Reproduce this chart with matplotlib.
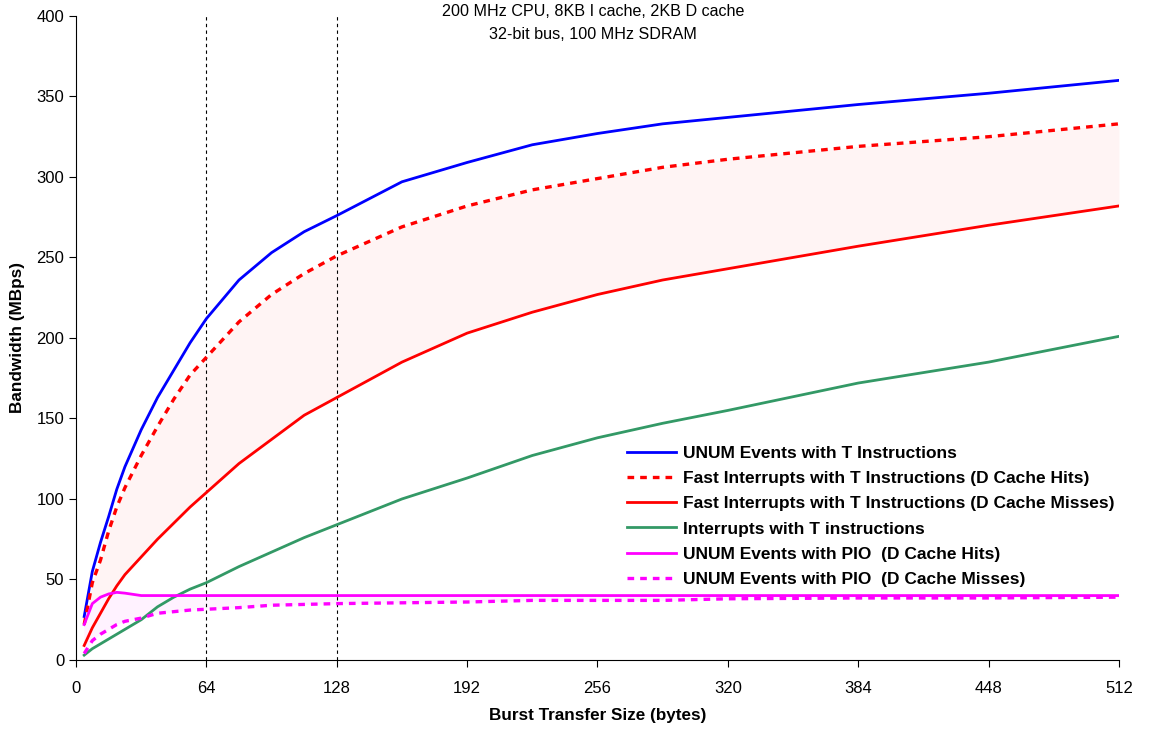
import numpy as np
import matplotlib.pyplot as plt

plt.rcParams['font.family'] = ['Liberation Sans', 'DejaVu Sans']

# burst size (bytes)
size = [4, 8, 12, 16, 20, 24, 32, 40, 48, 56, 64, 80, 96, 112, 128,
        160, 192, 224, 256, 288, 320, 384, 448, 512]

unum_t = [27, 55, 73, 89, 106, 120, 143, 163, 180, 197, 212, 236, 253, 266, 276,
          297, 309, 320, 327, 333, 337, 345, 352, 360]
fast_hits = [22, 48, 62, 80, 95, 107, 127, 145, 162, 177, 188, 210, 227, 240, 251,
             269, 282, 292, 299, 306, 311, 319, 325, 333]
fast_miss = [9, 20, 29, 38, 46, 53, 64, 75, 85, 95, 104, 122, 137, 152, 163,
             185, 203, 216, 227, 236, 243, 257, 270, 282]
intr_t = [3, 7, 10, 13, 16, 19, 25, 33, 39, 44, 48, 58, 67, 76, 84,
          100, 113, 127, 138, 147, 155, 172, 185, 201]
pio_hits = [22, 35, 39, 41, 42, 41.5, 40, 40, 40, 40, 40, 40, 40, 40, 40,
            40, 40, 40, 40, 40, 40, 40, 40, 40]
pio_miss = [4, 12, 16, 19, 22, 24, 26, 29, 30, 31, 31.5, 32.5, 34, 34.5, 35,
            35.5, 36, 37, 37, 37, 38, 38.5, 38.5, 39]

fig = plt.figure(figsize=(11.68, 7.29), dpi=100)
ax = fig.add_axes([0.0651, 0.0947, 0.8929, 0.8834])

ax.fill_between(size, fast_miss, fast_hits, color='#FFF4F4', lw=0)
ax.fill_between(size, pio_miss, pio_hits, color='#FFF2FF', lw=0)

ax.axvline(64, color='black', ls=(0, (3, 3)), lw=0.8)
ax.axvline(128, color='black', ls=(0, (3, 3)), lw=0.8)

dash = (0, (2, 1.8))
ax.plot(size, unum_t, color='#0000FF', lw=2, label='UNUM Events with T Instructions')
ax.plot(size, fast_hits, color='#FF0000', lw=2.4, ls=dash,
        label='Fast Interrupts with T Instructions (D Cache Hits)')
ax.plot(size, fast_miss, color='#FF0000', lw=2,
        label='Fast Interrupts with T Instructions (D Cache Misses)')
ax.plot(size, intr_t, color='#339966', lw=2, label='Interrupts with T instructions')
ax.plot(size, pio_hits, color='#FF00FF', lw=2, label='UNUM Events with PIO  (D Cache Hits)')
ax.plot(size, pio_miss, color='#FF00FF', lw=2.4, ls=dash,
        label='UNUM Events with PIO  (D Cache Misses)')

ax.set_xlim(0, 512)
ax.set_ylim(0, 400)
ax.set_xticks(range(0, 513, 64))
ax.set_yticks(range(0, 401, 50))
ax.spines['top'].set_visible(False)
ax.spines['right'].set_visible(False)
ax.tick_params(direction='out', length=5, labelsize=12)
ax.tick_params(axis='x', pad=10)

ax.set_xlabel('Burst Transfer Size (bytes)', fontsize=12.3, fontweight='bold', labelpad=9)
ax.set_ylabel('Bandwidth (MBps)', fontsize=12.3, fontweight='bold', labelpad=8)

fig.text(0.508, 0.995, '200 MHz CPU, 8KB I cache, 2KB D cache', ha='center', va='top', fontsize=11.6)
fig.text(0.508, 0.963, '32-bit bus, 100 MHz SDRAM', ha='center', va='top', fontsize=11.6)

leg = ax.legend(loc='upper left', bbox_to_anchor=(0.5234, 0.41), bbox_transform=fig.transFigure,
                frameon=False, prop={'weight': 'bold', 'size': 12.5},
                handlelength=2.8, handletextpad=0.45, labelspacing=0.58)

fig.savefig('out.png', dpi=100)
